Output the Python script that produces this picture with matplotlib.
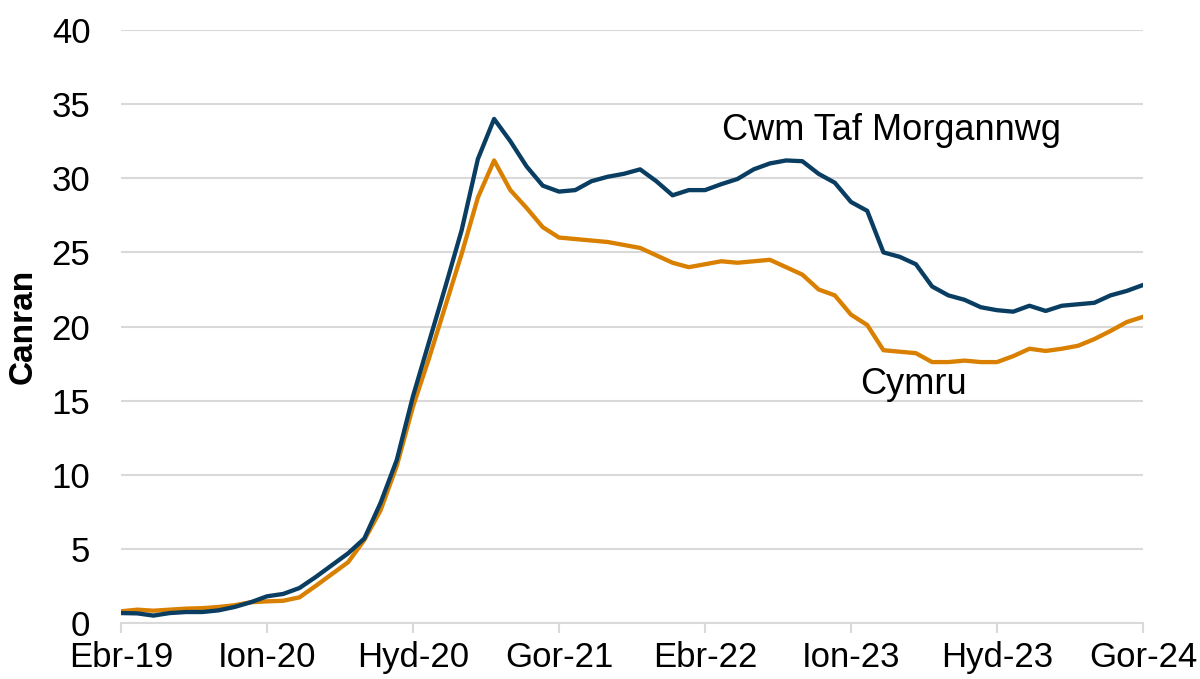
import matplotlib
matplotlib.use("Agg")
import matplotlib.pyplot as plt
import numpy as np

plt.rcParams['font.family'] = ['Liberation Sans', 'DejaVu Sans']

tick_labels = ["Ebr-19", "Ion-20", "Hyd-20", "Gor-21", "Ebr-22", "Ion-23", "Hyd-23", "Gor-24"]

cwm_taf = [0.67, 0.65, 0.5, 0.67, 0.74, 0.74, 0.85, 1.08, 1.4, 1.8,
           1.96, 2.36, 3.1, 3.9, 4.7, 5.7, 8.1, 11.0, 15.3, 19.0,
           22.7, 26.5, 31.3, 34.0, 32.5, 30.8, 29.5, 29.1, 29.2, 29.8,
           30.1, 30.3, 30.6, 29.8, 28.85, 29.2, 29.2, 29.6, 29.95, 30.6,
           31.0, 31.2, 31.15, 30.3, 29.7, 28.4, 27.8, 25.0, 24.7, 24.2,
           22.7, 22.1, 21.8, 21.3, 21.1, 21.0, 21.4, 21.05, 21.4, 21.5,
           21.6, 22.1, 22.4, 22.8]

cymru = [0.79, 0.9, 0.83, 0.9, 0.97, 1.0, 1.08, 1.2, 1.4, 1.46,
         1.5, 1.73, 2.5, 3.3, 4.1, 5.6, 7.6, 10.6, 14.6, 17.9,
         21.4, 24.9, 28.7, 31.2, 29.2, 28.0, 26.7, 26.0, 25.9, 25.8,
         25.7, 25.5, 25.3, 24.8, 24.3, 24.0, 24.2, 24.4, 24.3, 24.4,
         24.5, 24.0, 23.5, 22.5, 22.1, 20.8, 20.1, 18.4, 18.3, 18.2,
         17.6, 17.6, 17.7, 17.6, 17.6, 18.0, 18.5, 18.35, 18.5, 18.7,
         19.15, 19.7, 20.3, 20.65]

x = np.arange(len(cwm_taf))

W, H = 1200, 679
fig = plt.figure(figsize=(12, 6.79), dpi=100)
ax = fig.add_axes([121/W, 1-623/H, (1143-121)/W, (623-30)/H])

ax.plot(x, cymru, color='#D98000', lw=3.1, solid_joinstyle='round', zorder=3)
ax.plot(x, cwm_taf, color='#0A3D62', lw=3.1, solid_joinstyle='round', zorder=4)

ax.set_xlim(0, 63)
ax.set_ylim(0, 40)
ax.set_yticks(range(0, 41, 5))
ax.set_xticks(np.arange(0, 64, 9))
ax.set_xticklabels(tick_labels)

ax.grid(axis='y', color='#d9d9d9', lw=1.5)
ax.set_axisbelow(True)
for s in ['top', 'right', 'left']:
    ax.spines[s].set_visible(False)
ax.spines['bottom'].set_color('#d9d9d9')
ax.spines['bottom'].set_linewidth(1.5)
ax.tick_params(axis='x', colors='#d9d9d9', length=7, width=1.5, labelcolor='black',
               labelsize=25, pad=6)
ax.tick_params(axis='y', length=0, labelsize=25, pad=22)

ax.set_ylabel('Canran', fontsize=24, fontweight='bold')
ax.yaxis.set_label_coords(-(121-39)/(1143-121), 0.5)

fig.text(722/W, 1-130/H, 'Cwm Taf Morgannwg', fontsize=26, va='center', ha='left')
fig.text(860/W, 1-385/H, 'Cymru', fontsize=26, va='center', ha='left')

fig.savefig('out.png', dpi=100)
